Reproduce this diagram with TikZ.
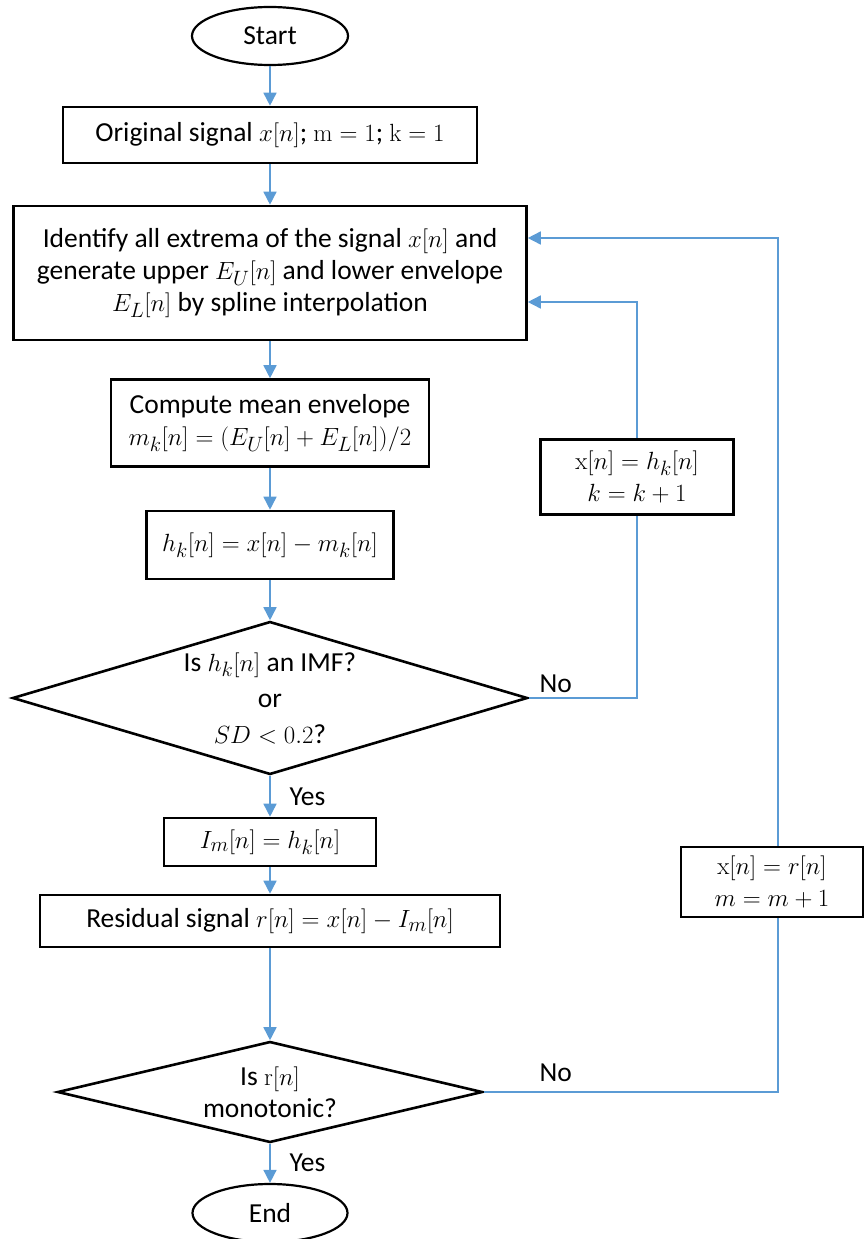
\documentclass[tikz,border=0pt]{standalone}
\usepackage[no-math]{fontspec}
\setmainfont{Carlito}
\usetikzlibrary{shapes.geometric,arrows.meta,calc}
\definecolor{lineblue}{HTML}{5B9BD5}
\begin{document}
\begin{tikzpicture}[x=1pt,y=-1pt,
  every node/.style={font=\fontsize{27.5}{32}\selectfont, align=center},
  proc/.style={draw, rectangle, line width=2.6pt, inner sep=0pt},
  term/.style={draw, ellipse, line width=2.2pt, inner sep=0pt, minimum width=156, minimum height=58},
  dec/.style={draw, diamond, line width=2.6pt, inner sep=0pt},
  conn/.style={draw=lineblue, line width=1.6pt},
  flow/.style={conn, -{Triangle[length=13pt,width=13pt]}},
  lbl/.style={font=\fontsize{27.5}{30}\selectfont, anchor=west}]
\useasboundingbox (0,0) rectangle (863,1239);

\node[term] (start) at (270,36) {Start};
\node[proc, minimum width=414, minimum height=56] (b1) at (270,135)
  {Original signal $x[n]$; $\mathrm{m}=1$; $\mathrm{k}=1$};
\node[proc, minimum width=513, minimum height=134] (b2) at (270,273)
  {Identify all extrema of the signal $x[n]$ and\\ generate upper $E_U[n]$ and lower envelope\\ $E_L[n]$ by spline interpolation};
\node[proc, minimum width=318, minimum height=87] (b3) at (270,423)
  {Compute mean envelope\\ $m_k[n]=(E_U[n]+E_L[n])/2$};
\node[proc, minimum width=247, minimum height=68] (b4) at (270,545)
  {$h_k[n]=x[n]-m_k[n]$};
\node[dec, minimum width=515, minimum height=153, aspect=3.37,
      font=\fontsize{27.5}{36}\selectfont] (d1) at (270,698)
  {Is $h_k[n]$ an IMF?\\ or\\ $SD<0.2$?};
\node[proc, minimum width=212, minimum height=48] (im) at (270,842)
  {$I_m[n]=h_k[n]$};
\node[proc, minimum width=460, minimum height=52] (res) at (270,921)
  {Residual signal $r[n]=x[n]-I_m[n]$};
\node[dec, minimum width=425, minimum height=101, aspect=4.2] (d2) at (270,1092)
  {Is $\mathrm{r}[n]$\\ monotonic?};
\node[term, minimum width=155] (end) at (270,1213) {End};

\node[proc, minimum width=193, minimum height=75] (kup) at (637,477)
  {$\mathrm{x}[n]=h_k[n]$\\ $k=k+1$};
\node[proc, minimum width=182, minimum height=70] (rup) at (772,882)
  {$\mathrm{x}[n]=r[n]$\\ $m=m+1$};

\coordinate (in1) at ($(b2.east)+(0,29)$);
\coordinate (in2) at ($(b2.east)+(0,-35)$);
\coordinate (ox) at (778,0);

\draw[flow] (start) -- (b1);
\draw[flow] (b1) -- (b2);
\draw[flow] (b2) -- (b3);
\draw[flow] (b3) -- (b4);
\draw[flow] (b4) -- (d1);
\draw[flow] (d1) -- (im);
\draw[flow] (im) -- (res);
\draw[flow] (res) -- (d2);
\draw[flow] (d2) -- (end);

\draw[conn] (d1.east) -| (kup.south);
\draw[flow] (kup.north) |- (in1);
\draw[conn] (d2.east) -| (ox |- rup.south);
\draw[flow] (ox |- rup.north) |- (in2);

\node[lbl] (yes1) at (286,797) {Yes};
\node[lbl] (yes2) at (286,1163) {Yes};
\node[lbl] (no1) at (536,684) {No};
\node[lbl] (no2) at (536,1073) {No};
\end{tikzpicture}
\end{document}
